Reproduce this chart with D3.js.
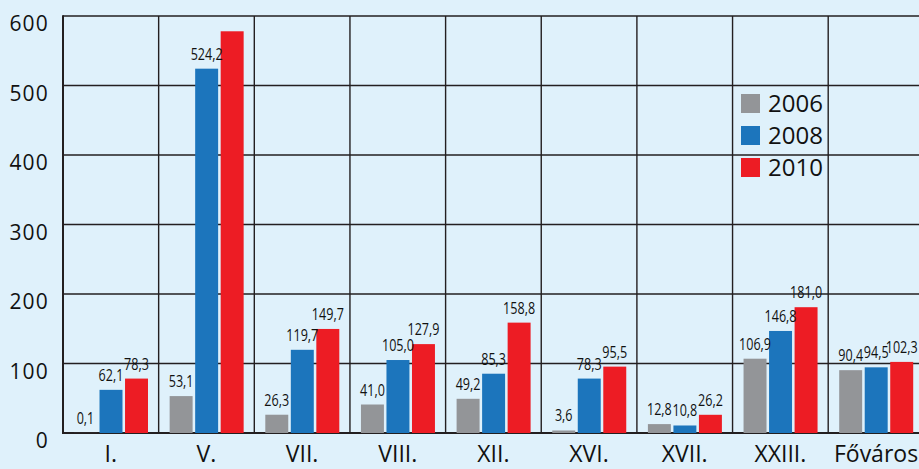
<!DOCTYPE html>
<html><head><meta charset="utf-8">
<script src="https://cdn.jsdelivr.net/npm/d3@7"></script>
<style>
html,body{margin:0;padding:0;background:#dff1fb;}
svg{display:block;}
text{font-family:"Open Sans","Noto Sans",sans-serif;fill:#111;}
</style></head>
<body>
<svg id="chart" width="919" height="469"></svg>
<script>
const categories = ["I.", "V.", "VII.", "VIII.", "XII.", "XVI.", "XVII.", "XXIII.", "Főváros"];
const seriesNames = ["2006", "2008", "2010"];
const values2006 = [0.1, 53.1, 26.3, 41.0, 49.2, 3.6, 12.8, 106.9, 90.4];
const values2008 = [62.1, 524.2, 119.7, 105.0, 85.3, 78.3, 10.8, 146.8, 94.5];
const values2010 = [78.3, 578.0, 149.7, 127.9, 158.8, 95.5, 26.2, 181.0, 102.3];
const hiddenLabels = [["V.", "2010"]];
const yTicks = [0, 100, 200, 300, 400, 500, 600];
const colors = ["#939598", "#1c75bc", "#ed1c24"];

const seriesValues = [values2006, values2008, values2010];
const svg = d3.select("#chart");
svg.append("rect").attr("width", 919).attr("height", 469).attr("fill", "#dff1fb");

const mLeft = 63, mTop = 16, mBottom = 433, step = 95.65;
const x = d3.scaleBand().domain(categories).range([mLeft, mLeft + step * categories.length]).padding(0);
const xs = d3.scaleBand().domain(seriesNames).range([11, 85]).paddingInner(0.1).paddingOuter(0);
const y = d3.scaleLinear().domain([0, 600]).range([mBottom, mTop]);
const color = d3.scaleOrdinal().domain(seriesNames).range(colors);

// gridlines
const grid = svg.append("g").attr("stroke", "#231f20").attr("stroke-width", 1.4);
grid.selectAll("line.h").data(yTicks).join("line").attr("class", "h")
  .attr("x1", mLeft).attr("x2", 919).attr("y1", d => y(d)).attr("y2", d => y(d));
grid.selectAll("line.v").data(categories).join("line").attr("class", "v")
  .attr("x1", d => x(d)).attr("x2", d => x(d)).attr("y1", mTop).attr("y2", mBottom);
svg.append("line").attr("x1", mLeft).attr("x2", 919).attr("y1", y(0)).attr("y2", y(0))
  .attr("stroke", "#231f20").attr("stroke-width", 2);
svg.append("line").attr("x1", mLeft).attr("x2", mLeft).attr("y1", mTop - 0.7).attr("y2", mBottom + 1)
  .attr("stroke", "#231f20").attr("stroke-width", 2);

// data rows
const rows = [];
categories.forEach((c, i) => seriesNames.forEach((s, j) => rows.push({c, s, v: seriesValues[j][i]})));

svg.append("g").selectAll("rect").data(rows).join("rect")
  .attr("x", d => x(d.c) + xs(d.s))
  .attr("width", xs.bandwidth())
  .attr("y", d => y(d.v))
  .attr("height", d => y(0) - y(d.v))
  .attr("fill", d => color(d.s));

const isHidden = d => hiddenLabels.some(h => h[0] === d.c && h[1] === d.s);
const fmt = v => v.toFixed(1).replace(".", ",");
svg.append("g").selectAll("text").data(rows.filter(d => !isHidden(d))).join("text")
  .attr("transform", d => `translate(${x(d.c) + xs(d.s) + xs.bandwidth() / 2},${y(d.v) - 9}) scale(0.74,1)`)
  .attr("text-anchor", "middle")
  .attr("font-size", 17)
  .text(d => fmt(d.v));

// y axis labels
svg.append("g").selectAll("text").data(yTicks).join("text")
  .attr("x", 49).attr("y", d => y(d) + 15)
  .attr("text-anchor", "end").attr("font-size", 21).attr("letter-spacing", 1.2)
  .text(d => d);

// x labels
svg.append("g").selectAll("text").data(categories).join("text")
  .attr("x", d => x(d) + x.bandwidth() / 2).attr("y", 462)
  .attr("text-anchor", "middle").attr("font-size", 23)
  .text(d => d);

// legend
const lg = svg.append("g").selectAll("g").data(seriesNames).join("g")
  .attr("transform", (d, i) => `translate(741,${94 + i * 32})`);
lg.append("rect").attr("width", 19).attr("height", 19).attr("fill", d => color(d));
lg.append("text").attr("x", 27).attr("y", 18).attr("font-size", 24).text(d => d);
</script>
</body></html>
